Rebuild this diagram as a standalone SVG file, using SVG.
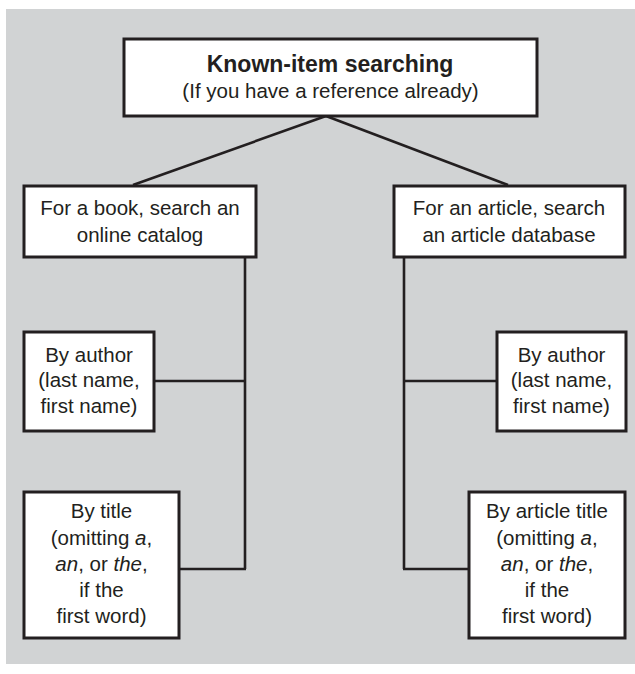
<svg xmlns="http://www.w3.org/2000/svg" width="635" height="674" viewBox="0 0 635 674">
<style>
.box{fill:#ffffff;stroke:#231f20;stroke-width:3}
.con{fill:none;stroke:#231f20;stroke-width:2.6}
text{font-family:"Liberation Sans",Arial,sans-serif;font-size:20.5px;fill:#231f20;text-anchor:middle}
.title{font-weight:bold;font-size:23px}
.i{font-style:italic}
</style>
<rect x="0" y="0" width="635" height="674" fill="#ffffff"/>
<rect x="6" y="9" width="629" height="655" fill="#d1d3d4"/>
<g id="connectors">
<path class="con" d="M326,116 L133,185"/>
<path class="con" d="M326,116 L508,185"/>
<path class="con" d="M245,257 V569"/>
<path class="con" d="M154,381 H246"/>
<path class="con" d="M179,569 H246"/>
<path class="con" d="M404,257 V569"/>
<path class="con" d="M403,381 H497"/>
<path class="con" d="M403,569 H469"/>
</g>
<g id="root">
<rect class="box" x="124" y="39" width="413" height="77"/>
<text class="title" x="330" y="72">Known-item searching</text>
<text x="330.5" y="98">(If you have a reference already)</text>
</g>
<g id="book">
<rect class="box" x="24" y="186" width="232" height="71"/>
<text x="140" y="215">For a book, search an</text>
<text x="140" y="242">online catalog</text>
</g>
<g id="article">
<rect class="box" x="394" y="186" width="231" height="71"/>
<text x="509" y="215">For an article, search</text>
<text x="509" y="242">an article database</text>
</g>
<g id="book-author">
<rect class="box" x="24" y="332" width="130" height="99"/>
<text x="89" y="362">By author</text>
<text x="89" y="387">(last name,</text>
<text x="89" y="413">first name)</text>
</g>
<g id="book-title">
<rect class="box" x="24" y="492" width="155" height="146"/>
<text x="101.5" y="518">By title</text>
<text x="101.5" y="545">(omitting <tspan class="i">a</tspan>,</text>
<text x="101.5" y="571"><tspan class="i">an</tspan>, or <tspan class="i">the</tspan>,</text>
<text x="101.5" y="597">if the</text>
<text x="101.5" y="623">first word)</text>
</g>
<g id="article-author">
<rect class="box" x="497" y="332" width="129" height="99"/>
<text x="561.5" y="362">By author</text>
<text x="561.5" y="387">(last name,</text>
<text x="561.5" y="413">first name)</text>
</g>
<g id="article-title">
<rect class="box" x="469" y="492" width="156" height="146"/>
<text x="547" y="518">By article title</text>
<text x="547" y="545">(omitting <tspan class="i">a</tspan>,</text>
<text x="547" y="571"><tspan class="i">an</tspan>, or <tspan class="i">the</tspan>,</text>
<text x="547" y="597">if the</text>
<text x="547" y="623">first word)</text>
</g>
</svg>
